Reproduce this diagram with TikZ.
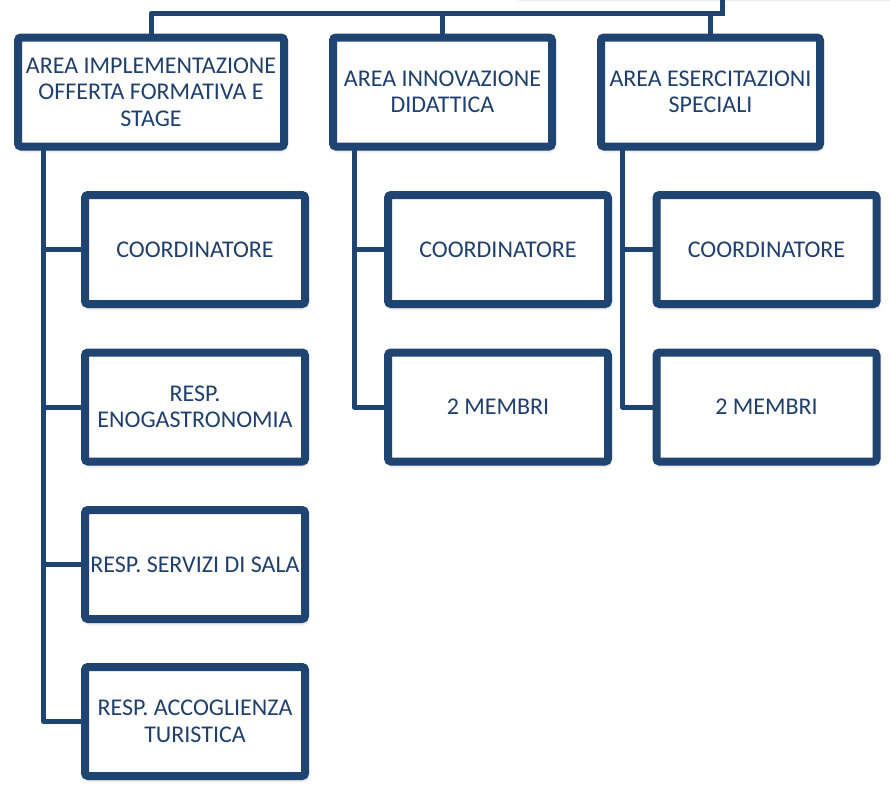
\documentclass[tikz,border=0pt]{standalone}
\usepackage{fontspec}
\setmainfont{Carlito}
\usetikzlibrary{shadows.blur}
\definecolor{navy}{HTML}{1F4472}
\definecolor{navytext}{HTML}{1F3F6E}
\tikzset{
  orgbox/.style={draw=navy, line width=8pt, fill=white, rounded corners=3pt,
    align=center, inner sep=0pt, text=navytext,
    font=\fontsize{24}{26.5}\selectfont,
    blur shadow={shadow xshift=1pt, shadow yshift=-3pt, shadow blur radius=4pt, shadow opacity=35}},
  areabox/.style={orgbox, minimum height=109pt},
  childbox/.style={orgbox, minimum width=220pt, minimum height=109pt},
  conn/.style={draw=navy, line width=5pt, line cap=rect, line join=round}
}
\begin{document}
\begin{tikzpicture}[x=1pt, y=-1pt]
\useasboundingbox (0,0) rectangle (890,787);
% parent box (off canvas, only its shadow shows)
\node[orgbox, minimum width=420pt, minimum height=60pt] (root) at (726,-35) {};
% area boxes
\node[areabox, minimum width=266pt] (A1) at (151,92) {AREA IMPLEMENTAZIONE\\OFFERTA FORMATIVA E\\STAGE};
\node[areabox, minimum width=219pt] (A2) at (442.5,92) {AREA INNOVAZIONE\\DIDATTICA};
\node[areabox, minimum width=219pt] (A3) at (710.5,92) {AREA ESERCITAZIONI\\SPECIALI};
% children column 1
\node[childbox] (c11) at (195,249.5) {COORDINATORE};
\node[childbox] (c12) at (195,407) {RESP.\\ENOGASTRONOMIA};
\node[childbox] (c13) at (195,564.5) {RESP. SERVIZI DI SALA};
\node[childbox] (c14) at (195,721.5) {RESP. ACCOGLIENZA\\TURISTICA};
% children column 2
\node[childbox] (c21) at (498,249.5) {COORDINATORE};
\node[childbox] (c22) at (498,407) {2 MEMBRI};
% children column 3
\node[childbox] (c31) at (766.5,249.5) {COORDINATORE};
\node[childbox] (c32) at (766.5,407) {2 MEMBRI};
% connectors
\coordinate (bus) at (722.5,13.5);
\coordinate (t1) at (43.5,150);
\coordinate (t2) at (354,150);
\coordinate (t3) at (622.5,150);
\draw[conn] (root.south -| bus) -- (bus) -| (A1.north);
\draw[conn] (bus) -| (A2.north);
\draw[conn] (bus) -| (A3.north);
\draw[conn] (t1) |- (c14.west);
\draw[conn] (t1) |- (c11.west);
\draw[conn] (t1) |- (c12.west);
\draw[conn] (t1) |- (c13.west);
\draw[conn] (t2) |- (c22.west);
\draw[conn] (t2) |- (c21.west);
\draw[conn] (t3) |- (c32.west);
\draw[conn] (t3) |- (c31.west);
\end{tikzpicture}
\end{document}
